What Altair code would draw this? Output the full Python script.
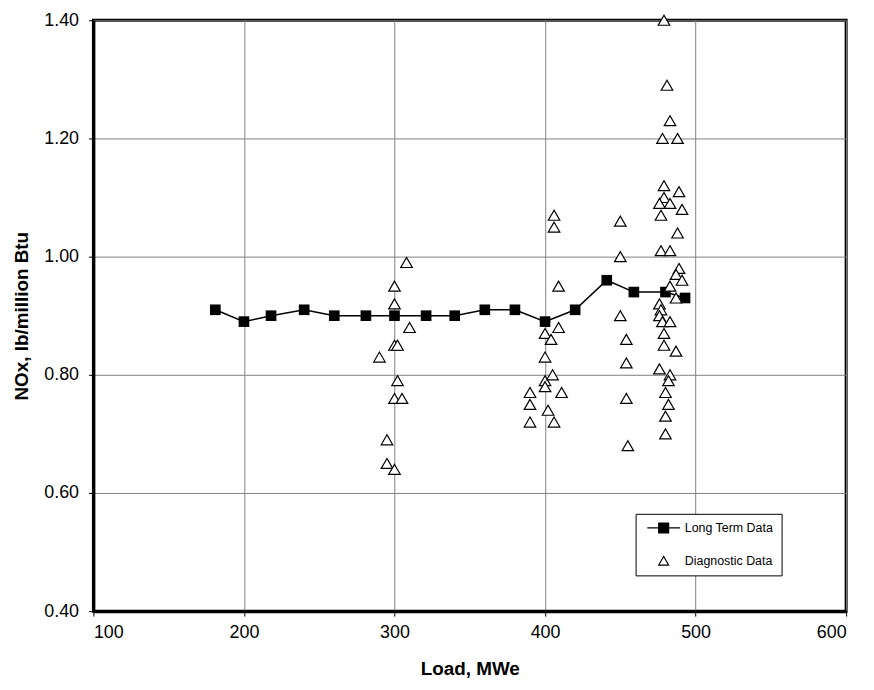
import altair as alt
import pandas as pd

# Long term data (Load MWe, NOx lb/million Btu)
lt_load = [181, 200, 218, 240, 260, 281, 300, 321, 340, 360, 380, 400, 420, 441, 459, 480, 493]
lt_nox = [0.91, 0.89, 0.90, 0.91, 0.90, 0.90, 0.90, 0.90, 0.90, 0.91, 0.91, 0.89, 0.91, 0.96, 0.94, 0.94, 0.93]

# Diagnostic data
diag_load = [
    308, 300, 300, 310, 300, 302, 290, 302, 300, 305, 295, 295, 300,
    390, 390, 390, 400, 400, 400, 400, 402, 404, 405, 406, 406, 406, 409, 409, 411,
    450, 450, 450, 454, 454, 454, 455,
    479, 481, 483, 478, 488, 479, 489, 479, 476, 483, 491, 477, 488, 477, 483,
    489, 487, 491, 483, 487, 476, 477, 476, 478, 483, 479, 479, 487, 476, 483,
    482, 480, 482, 480, 480,
]
diag_nox = [
    0.99, 0.95, 0.92, 0.88, 0.85, 0.85, 0.83, 0.79, 0.76, 0.76, 0.69, 0.65, 0.64,
    0.77, 0.75, 0.72, 0.87, 0.83, 0.79, 0.78, 0.74, 0.86, 0.80, 1.07, 1.05, 0.72, 0.95, 0.88, 0.77,
    1.06, 1.00, 0.90, 0.86, 0.82, 0.76, 0.68,
    1.40, 1.29, 1.23, 1.20, 1.20, 1.12, 1.11, 1.10, 1.09, 1.09, 1.08, 1.07, 1.04, 1.01, 1.01,
    0.98, 0.97, 0.96, 0.95, 0.93, 0.92, 0.91, 0.90, 0.89, 0.89, 0.87, 0.85, 0.84, 0.81, 0.80,
    0.79, 0.77, 0.75, 0.73, 0.70,
]

series_names = ["Long Term Data", "Diagnostic Data"]
x_ticks = [100, 200, 300, 400, 500, 600]
y_ticks = [0.4, 0.6, 0.8, 1.0, 1.2, 1.4]

lt = pd.DataFrame({"load": lt_load, "nox": lt_nox, "series": series_names[0]})
dg = pd.DataFrame({"load": diag_load, "nox": diag_nox, "series": series_names[1]})
both = pd.concat([lt, dg], ignore_index=True)

FONT = "Liberation Sans"

x = alt.X("load:Q",
          scale=alt.Scale(domain=[100, 600], nice=False, zero=False),
          axis=alt.Axis(values=x_ticks, format="d", title="Load, MWe",
                        labelPadding=8, titlePadding=18))
y = alt.Y("nox:Q",
          scale=alt.Scale(domain=[0.4, 1.4], nice=False, zero=False),
          axis=alt.Axis(values=y_ticks, format=".2f", title="NOx, lb/million Btu",
                        labelPadding=10, titlePadding=12))

line = alt.Chart(lt).mark_line(color="black", strokeWidth=1.5).encode(x=x, y=y)

squares = alt.Chart(lt).mark_point(
    shape="square", filled=True, color="black", size=115, opacity=1
).encode(x=x, y=y)

tris = alt.Chart(dg).mark_point(
    shape="triangle-up", filled=True, fill="white", stroke="black",
    strokeWidth=1.2, size=135, opacity=1
).encode(x=x, y=y)

lt_symbol = "M-3.3,0H3.3M-1,-1H1V1H-1Z"
legend_def = alt.Legend(
    title=None, orient="none", legendX=546, legendY=497, direction="vertical",
    padding=8, strokeColor="black", fillColor="white", cornerRadius=0,
    labelFont=FONT, labelFontSize=12.5, labelColor="black",
    symbolSize=100, symbolOffset=14, labelOffset=15, rowPadding=18,
    symbolStrokeWidth=1.2,
    labelExpr="datum.label + '\u00a0\u00a0'",
)
legend_layer = alt.Chart(both).transform_filter("false").mark_point(
    filled=True, strokeWidth=1.2, opacity=1
).encode(
    x=x, y=y,
    shape=alt.Shape("series:N", scale=alt.Scale(domain=series_names, range=[lt_symbol, "triangle-up"]),
                    legend=legend_def),
    fill=alt.Fill("series:N", scale=alt.Scale(domain=series_names, range=["black", "white"]),
                  legend=legend_def),
    stroke=alt.Stroke("series:N", scale=alt.Scale(domain=series_names, range=["black", "black"]),
                      legend=legend_def),
)

chart = alt.layer(line, squares, tris, legend_layer).properties(
    width=758, height=595,
    autosize=alt.AutoSizeParams(type="none"),
    padding={"left": 86, "top": 10, "right": 20, "bottom": 69},
).configure_axis(
    grid=True, gridColor="#808080", gridWidth=1,
    domainColor="black", domainWidth=3,
    tickColor="black", tickSize=5, tickWidth=1,
    labelFont=FONT, labelFontSize=18, labelColor="black",
    titleFont=FONT, titleFontSize=19, titleFontWeight="bold", titleColor="black",
).configure_view(stroke="black", strokeWidth=3)

chart.save("out.html", embed_options={"renderer": "svg", "actions": False})
